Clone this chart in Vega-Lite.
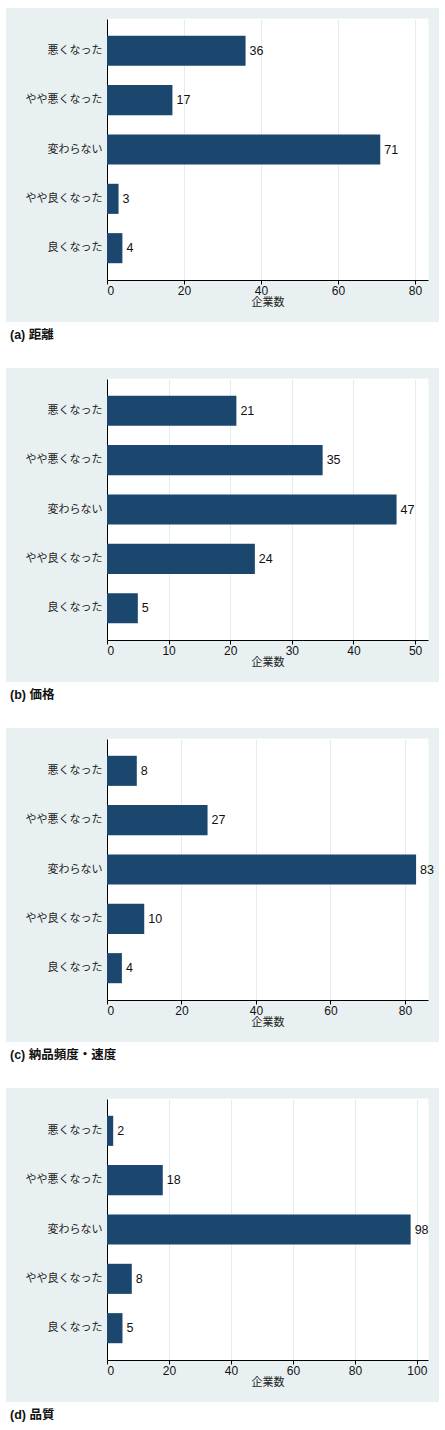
{
  "$schema": "https://vega.github.io/schema/vega-lite/v6.json",
  "background": "white",
  "padding": {"left": 6, "top": 8, "right": 0, "bottom": 0},
  "spacing": 26,
  "datasets": {
    "a": [
      {"cat": "悪くなった", "n": 36},
      {"cat": "やや悪くなった", "n": 17},
      {"cat": "変わらない", "n": 71},
      {"cat": "やや良くなった", "n": 3},
      {"cat": "良くなった", "n": 4}
    ],
    "b": [
      {"cat": "悪くなった", "n": 21},
      {"cat": "やや悪くなった", "n": 35},
      {"cat": "変わらない", "n": 47},
      {"cat": "やや良くなった", "n": 24},
      {"cat": "良くなった", "n": 5}
    ],
    "c": [
      {"cat": "悪くなった", "n": 8},
      {"cat": "やや悪くなった", "n": 27},
      {"cat": "変わらない", "n": 83},
      {"cat": "やや良くなった", "n": 10},
      {"cat": "良くなった", "n": 4}
    ],
    "d": [
      {"cat": "悪くなった", "n": 2},
      {"cat": "やや悪くなった", "n": 18},
      {"cat": "変わらない", "n": 98},
      {"cat": "やや良くなった", "n": 8},
      {"cat": "良くなった", "n": 5}
    ]
  },
  "vconcat": [
    {
      "width": 433, "height": 314,
      "view": {"fill": "#e9f0f1", "stroke": null},
      "title": {"text": "(a)  距離", "orient": "bottom", "anchor": "start", "offset": 7, "dx": 4},
      "data": {"name": "a"},
      "encoding": {
        "y": {"field": "cat", "type": "nominal", "sort": ["悪くなった", "やや悪くなった", "変わらない", "やや良くなった", "良くなった"],
              "scale": {"range": [11, 272], "paddingInner": 0.39, "paddingOuter": 0.34},
              "axis": {"orient": "left", "offset": -101, "title": null, "grid": true, "gridColor": "white", "gridWidth": 64, "gridOpacity": 1, "ticks": false, "domainColor": "black", "domainWidth": 1, "labelPadding": 5, "labelFontSize": 11, "labelColor": "#222"}}
      },
      "layer": [
        {
          "mark": {"type": "text", "align": "left", "baseline": "middle", "dx": 4, "fontSize": 12.5, "font": "Liberation Sans, Noto Sans CJK JP", "color": "#111"},
          "encoding": {
            "text": {"field": "n", "type": "quantitative"},
            "x": {"field": "n", "type": "quantitative", "scale": {"domain": [0, 83.4], "range": [101, 422], "nice": false},
                  "axis": {"orient": "bottom", "offset": -42, "values": [20, 40, 60, 80], "grid": false, "domain": false, "labels": false, "title": null, "ticks": true, "tickSize": -261, "tickColor": "#e3ecee", "tickWidth": 1}}
          }
        },
        {
          "mark": {"type": "bar", "color": "#1b476e"},
          "encoding": {
            "x": {"field": "n", "type": "quantitative", "scale": {"domain": [0, 83.4], "range": [101, 422], "nice": false},
                  "axis": {"orient": "bottom", "offset": -42, "values": [0, 20, 40, 60, 80], "grid": false, "domainColor": "black", "tickColor": "black", "tickSize": 4, "labelPadding": 1, "labelFontSize": 12, "labelColor": "#111", "title": "企業数", "titleFontSize": 11, "titleFontWeight": "normal", "titlePadding": 0, "titleColor": "#222"}}
          }
        }
      ],
      "resolve": {"axis": {"x": "independent"}}
    },
    {
      "width": 433, "height": 314,
      "view": {"fill": "#e9f0f1", "stroke": null},
      "title": {"text": "(b)  価格", "orient": "bottom", "anchor": "start", "offset": 7, "dx": 4},
      "data": {"name": "b"},
      "encoding": {
        "y": {"field": "cat", "type": "nominal", "sort": ["悪くなった", "やや悪くなった", "変わらない", "やや良くなった", "良くなった"],
              "scale": {"range": [11, 272], "paddingInner": 0.39, "paddingOuter": 0.34},
              "axis": {"orient": "left", "offset": -101, "title": null, "grid": true, "gridColor": "white", "gridWidth": 64, "gridOpacity": 1, "ticks": false, "domainColor": "black", "domainWidth": 1, "labelPadding": 5, "labelFontSize": 11, "labelColor": "#222"}}
      },
      "layer": [
        {
          "mark": {"type": "text", "align": "left", "baseline": "middle", "dx": 4, "fontSize": 12.5, "font": "Liberation Sans, Noto Sans CJK JP", "color": "#111"},
          "encoding": {
            "text": {"field": "n", "type": "quantitative"},
            "x": {"field": "n", "type": "quantitative", "scale": {"domain": [0, 52.1], "range": [101, 422], "nice": false},
                  "axis": {"orient": "bottom", "offset": -42, "values": [10, 20, 30, 40, 50], "grid": false, "domain": false, "labels": false, "title": null, "ticks": true, "tickSize": -261, "tickColor": "#e3ecee", "tickWidth": 1}}
          }
        },
        {
          "mark": {"type": "bar", "color": "#1b476e"},
          "encoding": {
            "x": {"field": "n", "type": "quantitative", "scale": {"domain": [0, 52.1], "range": [101, 422], "nice": false},
                  "axis": {"orient": "bottom", "offset": -42, "values": [0, 10, 20, 30, 40, 50], "grid": false, "domainColor": "black", "tickColor": "black", "tickSize": 4, "labelPadding": 1, "labelFontSize": 12, "labelColor": "#111", "title": "企業数", "titleFontSize": 11, "titleFontWeight": "normal", "titlePadding": 0, "titleColor": "#222"}}
          }
        }
      ],
      "resolve": {"axis": {"x": "independent"}}
    },
    {
      "width": 433, "height": 314,
      "view": {"fill": "#e9f0f1", "stroke": null},
      "title": {"text": "(c)  納品頻度・速度", "orient": "bottom", "anchor": "start", "offset": 7, "dx": 4},
      "data": {"name": "c"},
      "encoding": {
        "y": {"field": "cat", "type": "nominal", "sort": ["悪くなった", "やや悪くなった", "変わらない", "やや良くなった", "良くなった"],
              "scale": {"range": [11, 272], "paddingInner": 0.39, "paddingOuter": 0.34},
              "axis": {"orient": "left", "offset": -101, "title": null, "grid": true, "gridColor": "white", "gridWidth": 64, "gridOpacity": 1, "ticks": false, "domainColor": "black", "domainWidth": 1, "labelPadding": 5, "labelFontSize": 11, "labelColor": "#222"}}
      },
      "layer": [
        {
          "mark": {"type": "text", "align": "left", "baseline": "middle", "dx": 4, "fontSize": 12.5, "font": "Liberation Sans, Noto Sans CJK JP", "color": "#111"},
          "encoding": {
            "text": {"field": "n", "type": "quantitative"},
            "x": {"field": "n", "type": "quantitative", "scale": {"domain": [0, 86.2], "range": [101, 422], "nice": false},
                  "axis": {"orient": "bottom", "offset": -42, "values": [20, 40, 60, 80], "grid": false, "domain": false, "labels": false, "title": null, "ticks": true, "tickSize": -261, "tickColor": "#e3ecee", "tickWidth": 1}}
          }
        },
        {
          "mark": {"type": "bar", "color": "#1b476e"},
          "encoding": {
            "x": {"field": "n", "type": "quantitative", "scale": {"domain": [0, 86.2], "range": [101, 422], "nice": false},
                  "axis": {"orient": "bottom", "offset": -42, "values": [0, 20, 40, 60, 80], "grid": false, "domainColor": "black", "tickColor": "black", "tickSize": 4, "labelPadding": 1, "labelFontSize": 12, "labelColor": "#111", "title": "企業数", "titleFontSize": 11, "titleFontWeight": "normal", "titlePadding": 0, "titleColor": "#222"}}
          }
        }
      ],
      "resolve": {"axis": {"x": "independent"}}
    },
    {
      "width": 433, "height": 314,
      "view": {"fill": "#e9f0f1", "stroke": null},
      "title": {"text": "(d)  品質", "orient": "bottom", "anchor": "start", "offset": 7, "dx": 4},
      "data": {"name": "d"},
      "encoding": {
        "y": {"field": "cat", "type": "nominal", "sort": ["悪くなった", "やや悪くなった", "変わらない", "やや良くなった", "良くなった"],
              "scale": {"range": [11, 272], "paddingInner": 0.39, "paddingOuter": 0.34},
              "axis": {"orient": "left", "offset": -101, "title": null, "grid": true, "gridColor": "white", "gridWidth": 64, "gridOpacity": 1, "ticks": false, "domainColor": "black", "domainWidth": 1, "labelPadding": 5, "labelFontSize": 11, "labelColor": "#222"}}
      },
      "layer": [
        {
          "mark": {"type": "text", "align": "left", "baseline": "middle", "dx": 4, "fontSize": 12.5, "font": "Liberation Sans, Noto Sans CJK JP", "color": "#111"},
          "encoding": {
            "text": {"field": "n", "type": "quantitative"},
            "x": {"field": "n", "type": "quantitative", "scale": {"domain": [0, 103.6], "range": [101, 422], "nice": false},
                  "axis": {"orient": "bottom", "offset": -42, "values": [20, 40, 60, 80, 100], "grid": false, "domain": false, "labels": false, "title": null, "ticks": true, "tickSize": -261, "tickColor": "#e3ecee", "tickWidth": 1}}
          }
        },
        {
          "mark": {"type": "bar", "color": "#1b476e"},
          "encoding": {
            "x": {"field": "n", "type": "quantitative", "scale": {"domain": [0, 103.6], "range": [101, 422], "nice": false},
                  "axis": {"orient": "bottom", "offset": -42, "values": [0, 20, 40, 60, 80, 100], "grid": false, "domainColor": "black", "tickColor": "black", "tickSize": 4, "labelPadding": 1, "labelFontSize": 12, "labelColor": "#111", "title": "企業数", "titleFontSize": 11, "titleFontWeight": "normal", "titlePadding": 0, "titleColor": "#222"}}
          }
        }
      ],
      "resolve": {"axis": {"x": "independent"}}
    }
  ],
  "config": {
    "font": "Liberation Sans, Noto Sans CJK JP",
    "axis": {"labelFont": "Liberation Sans, Noto Sans CJK JP", "titleFont": "Liberation Sans, Noto Sans CJK JP"},
    "title": {"font": "Liberation Sans, Noto Sans CJK JP", "fontSize": 12.5, "fontWeight": "bold", "color": "#111"}
  }
}
